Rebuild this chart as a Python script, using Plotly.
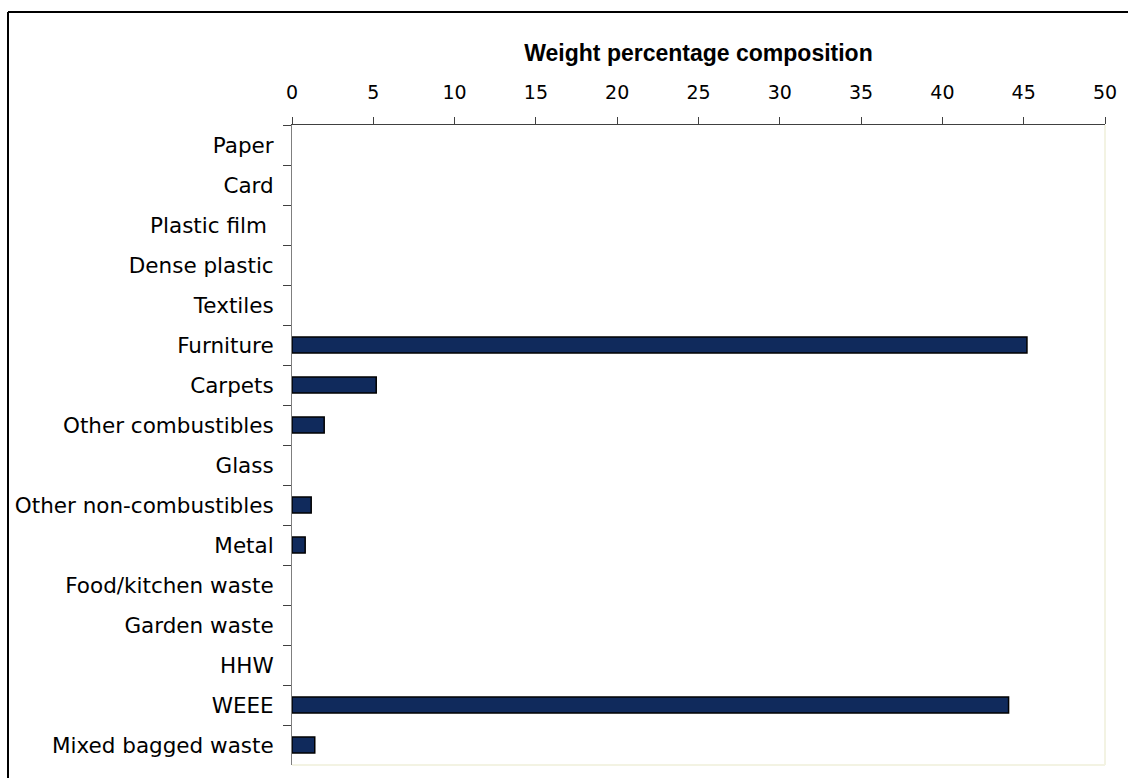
import plotly.graph_objects as go

categories = ["Paper", "Card", "Plastic film ", "Dense plastic", "Textiles", "Furniture",
              "Carpets", "Other combustibles", "Glass", "Other non-combustibles", "Metal",
              "Food/kitchen waste", "Garden waste", "HHW", "WEEE", "Mixed bagged waste"]
values = [0, 0, 0, 0, 0, 45.2, 5.18, 1.98, 0, 1.18, 0.81, 0, 0, 0, 44.07, 1.4]
x_ticks = [0, 5, 10, 15, 20, 25, 30, 35, 40, 45, 50]

W, H = 1128, 778
L, R, T, B = 292, 23, 125, 13
pw, ph = W - L - R, H - T - B

# no outline for empty (zero) bars so nothing is drawn there
line_widths = [1.5 if v > 0 else 0 for v in values]

fig = go.Figure(go.Bar(
    x=values, y=categories, orientation="h", width=0.4,
    marker=dict(color="#102A5C", line=dict(color="#000000", width=line_widths)),
    hoverinfo="x+y",
))

fig.update_layout(
    width=W, height=H,
    margin=dict(l=L, r=R, t=T, b=B, pad=0, autoexpand=False),
    paper_bgcolor="white", plot_bgcolor="white",
    showlegend=False,
    font=dict(family="DejaVu Sans", size=19, color="#000000"),
    xaxis=dict(
        side="top", range=[0, 50], tickvals=x_ticks, ticktext=[str(v) for v in x_ticks],
        showgrid=False, zeroline=False, showline=True, linecolor="#404040", linewidth=1,
        ticks="outside", ticklen=7, tickcolor="#404040", tickwidth=1,
        tickfont=dict(family="DejaVu Sans", size=19), ticklabelstandoff=10,
        automargin=False,
        title=dict(text="<b>Weight percentage composition</b>",
                   font=dict(family="Liberation Sans", size=23), standoff=13),
    ),
    yaxis=dict(
        categoryorder="array", categoryarray=categories, autorange="reversed",
        showgrid=False, zeroline=False, showline=True, linecolor="#7f7f7f", linewidth=1,
        ticks="outside", ticklen=8, tickcolor="#404040", tickwidth=1, tickson="boundaries",
        tickfont=dict(family="DejaVu Sans", size=21.5), ticklabelstandoff=13,
        automargin=False,
    ),
)

# faint plot-area border on right and bottom
fig.add_shape(type="line", xref="paper", yref="paper", x0=1, x1=1, y0=0, y1=1,
              line=dict(color="#F3F3E3", width=2))
fig.add_shape(type="line", xref="paper", yref="paper", x0=0, x1=1, y0=0, y1=0,
              line=dict(color="#F3F3E3", width=2))

# outer chart frame (left and top edges visible)
fx = (8 - L) / pw
fy_top = (H - B - 12) / ph
fig.add_shape(type="line", xref="paper", yref="paper", x0=fx, x1=fx, y0=-0.1, y1=fy_top,
              line=dict(color="#000000", width=2))
fig.add_shape(type="line", xref="paper", yref="paper", x0=fx, x1=1.1, y0=fy_top, y1=fy_top,
              line=dict(color="#000000", width=2))

fig.write_html("out.html")
